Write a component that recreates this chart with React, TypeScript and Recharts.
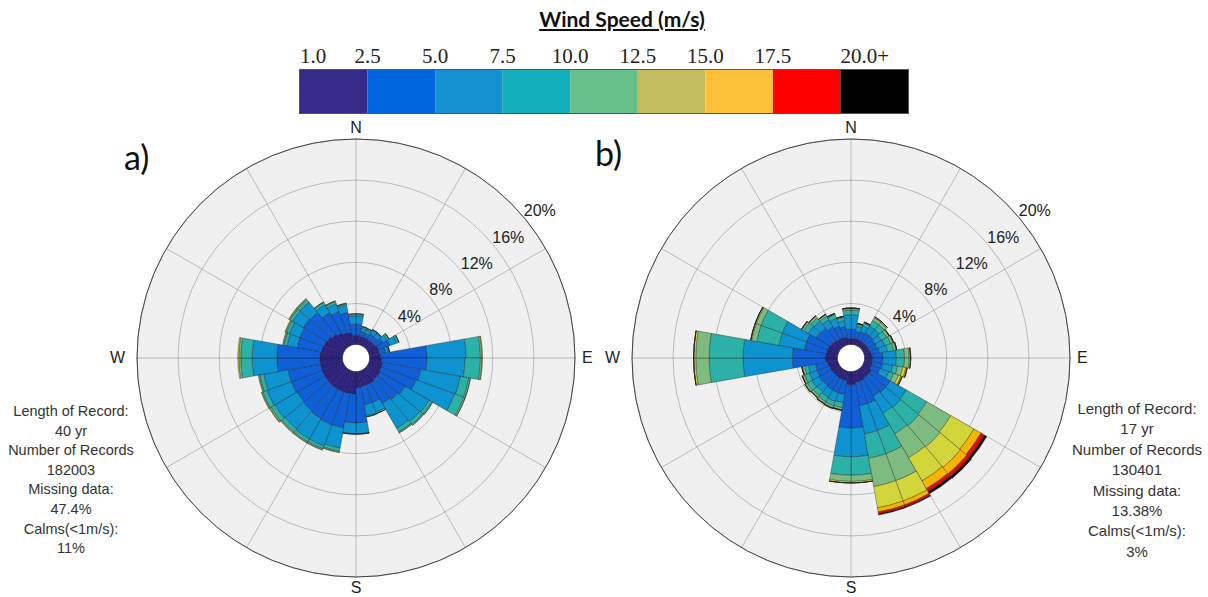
import {
  Bar,
  BarChart,
  PolarAngleAxis,
  PolarGrid,
  PolarRadiusAxis,
  RadialBar,
  RadialBarChart,
  XAxis,
  YAxis,
} from "recharts";

// 36 sectores de 10°, centro del sector en grados desde el norte
const DIRECCIONES = [
  5, 15, 25, 35, 45, 55, 65, 75, 85, 95, 105, 115, 125, 135, 145, 155, 165, 175,
  185, 195, 205, 215, 225, 235, 245, 255, 265, 275, 285, 295, 305, 315, 325, 335, 345, 355,
];

// a) frecuencia (%) por clase de velocidad
const A_1_25 = [0.9, 0.8, 0.8, 0.8, 0.85, 0.9, 1.0, 1.0, 1.1, 1.2, 1.3, 1.3, 1.4, 1.4, 1.5, 1.5, 1.5, 1.6, 2.2, 2.2, 2.2, 2.2, 2.2, 2.2, 2.2, 2.2, 2.2, 2.2, 2.1, 2.0, 1.9, 1.7, 1.5, 1.3, 1.2, 0.9];
const A_25_5 = [1.1, 0.5, 0.45, 0.6, 0.55, 0.8, 1.2, 0.6, 4.5, 4.4, 3.8, 3.6, 2.8, 2.6, 2.3, 1.8, 1.8, 3.4, 2.8, 3.4, 3.4, 3.3, 3.2, 3.1, 3.2, 3.2, 4.2, 4.2, 2.4, 2.5, 2.7, 2.8, 2.3, 2.2, 2.0, 1.1];
const A_5_75 = [0.8, 0.35, 0.35, 0.4, 0.4, 0.5, 0.7, 0.3, 3.8, 3.7, 3.9, 4.0, 2.7, 2.8, 2.8, 1.0, 1.1, 1.05, 1.05, 2.0, 2.2, 2.3, 2.3, 2.5, 2.5, 2.4, 2.4, 2.4, 1.0, 1.1, 1.2, 1.3, 0.9, 0.8, 0.7, 0.8];
const A_75_10 = [0.15, 0.15, 0.15, 0.1, 0.1, 0.2, 0.2, 0.1, 1.4, 1.5, 0.85, 0.95, 0.3, 0.35, 0.4, 0.15, 0.1, 0.05, 0.05, 0.3, 0.3, 0.3, 0.4, 0.45, 0.45, 0.4, 1.1, 1.1, 0.3, 0.3, 0.3, 0.3, 0.25, 0.25, 0.15, 0.15];
const A_10_125 = [0.05, 0, 0, 0, 0, 0, 0.05, 0, 0.15, 0.15, 0.15, 0.15, 0.1, 0.1, 0.1, 0, 0, 0, 0, 0.1, 0.1, 0.1, 0.1, 0.15, 0.1, 0.1, 0.2, 0.2, 0.1, 0.1, 0.1, 0.1, 0.05, 0.05, 0.05, 0.05];
const A_125_15 = [0, 0, 0, 0, 0, 0, 0, 0, 0.05, 0.05, 0, 0, 0, 0, 0, 0, 0, 0, 0, 0.05, 0.05, 0.05, 0.05, 0.05, 0.05, 0.05, 0.1, 0.1, 0.05, 0.05, 0.05, 0.05, 0, 0, 0, 0];

// b) frecuencia (%) por clase de velocidad
const B_1_25 = [0.6, 0.6, 0.6, 0.6, 0.6, 0.6, 0.6, 0.7, 0.8, 0.8, 0.8, 0.8, 1.0, 1.0, 1.0, 1.1, 1.1, 1.3, 1.3, 0.9, 0.9, 0.9, 0.9, 0.9, 0.9, 1.0, 1.2, 1.2, 1.1, 1.1, 1.0, 0.9, 0.8, 0.8, 0.7, 0.6];
const B_25_5 = [0.9, 0.7, 0.8, 0.9, 0.9, 0.8, 0.8, 0.8, 1.0, 1.0, 1.0, 0.9, 2.1, 2.1, 2.0, 2.3, 2.3, 4.2, 4.2, 1.4, 1.4, 1.4, 1.3, 1.4, 1.3, 1.2, 3.2, 3.2, 2.2, 2.2, 1.6, 1.6, 1.4, 1.2, 1.1, 0.9];
const B_5_75 = [1.4, 0.5, 0.6, 0.8, 0.8, 0.7, 0.8, 0.8, 1.3, 1.3, 1.0, 0.9, 1.8, 1.9, 1.9, 2.8, 2.8, 2.8, 2.8, 0.8, 0.9, 0.8, 0.8, 0.8, 0.8, 0.7, 4.8, 4.8, 2.5, 2.5, 0.9, 0.9, 0.8, 0.8, 0.6, 1.4];
const B_75_10 = [0.45, 0.2, 0.3, 0.6, 0.6, 0.6, 0.6, 0.6, 0.8, 0.8, 0.5, 0.5, 2.3, 2.3, 2.3, 2.4, 2.4, 1.8, 1.8, 0.5, 0.45, 0.5, 0.5, 0.5, 0.5, 0.4, 3.3, 3.3, 2.2, 2.2, 0.5, 0.4, 0.4, 0.4, 0.3, 0.45];
const B_10_125 = [0.15, 0.1, 0.1, 0.3, 0.3, 0.25, 0.25, 0.25, 0.45, 0.45, 0.5, 0.5, 2.7, 2.7, 2.7, 2.8, 2.8, 0.6, 0.6, 0.2, 0.2, 0.2, 0.2, 0.2, 0.2, 0.2, 1.3, 1.3, 0.5, 0.5, 0.2, 0.2, 0.2, 0.1, 0.1, 0.15];
const B_125_15 = [0.05, 0, 0, 0.1, 0.1, 0.05, 0.05, 0.05, 0.1, 0.1, 0.3, 0.25, 2.6, 2.6, 2.6, 2.1, 2.1, 0.15, 0.15, 0.05, 0.05, 0.05, 0.05, 0.05, 0.05, 0.05, 0.2, 0.2, 0.1, 0.1, 0.05, 0.05, 0, 0, 0, 0.05];
const B_15_175 = [0, 0, 0, 0, 0, 0, 0, 0, 0.05, 0.05, 0.1, 0.1, 0.8, 0.8, 0.85, 0.4, 0.4, 0, 0, 0, 0, 0, 0, 0, 0, 0, 0, 0, 0, 0, 0, 0, 0, 0, 0, 0];
const B_175_20 = [0, 0, 0, 0, 0, 0, 0, 0, 0, 0, 0.05, 0.05, 0.4, 0.35, 0.35, 0.2, 0.2, 0, 0, 0, 0, 0, 0, 0, 0, 0, 0, 0, 0, 0, 0, 0, 0, 0, 0, 0];
const B_20 = [0, 0, 0, 0, 0, 0, 0, 0, 0, 0, 0, 0, 0.25, 0.25, 0.25, 0.1, 0.1, 0, 0, 0, 0, 0, 0, 0, 0, 0, 0, 0, 0, 0, 0, 0, 0, 0, 0, 0];

const COLORES_ROSA = ["#2d2283", "#0f5fd8", "#0e93d1", "#2bb1a6", "#7dbb80", "#d3d63b", "#f7b500", "#e10b00", "#111111"];
const COLORES_BARRA = ["#352a87", "#0066df", "#1590d1", "#12aebc", "#66c08a", "#c4bd60", "#fcc138", "#fe0000", "#000000"];
const ETIQUETAS_VELOCIDAD = ["1.0", "2.5", "5.0", "7.5", "10.0", "12.5", "15.0", "17.5", "20.0+"];
const ANCHO_CLASE = [1, 1, 1, 1, 1, 1, 1, 1, 1];

const ANILLOS = [4, 8, 12, 16, 20];
const RAYOS = [0, 30, 60, 90, 120, 150, 180, 210, 240, 270, 300, 330];

const INFO_A = ["Length of Record:", "40 yr", "Number of Records", "182003", "Missing data:", "47.4%", "Calms(<1m/s):", "11%"];
const INFO_B = ["Length of Record:", "17 yr", "Number of Records", "130401", "Missing data:", "13.38%", "Calms(<1m/s):", "3%"];

const CAPAS_A = [A_1_25, A_25_5, A_5_75, A_75_10, A_10_125, A_125_15];
const CAPAS_B = [B_1_25, B_25_5, B_5_75, B_75_10, B_10_125, B_125_15, B_15_175, B_175_20, B_20];

const SANS = "'Liberation Sans', Arial, sans-serif";
const CALIBRI = "Lato, 'Open Sans', sans-serif";
const RADIO = 219;
const HUECO = 13.5;
const MEDIO = 250;

function filas(capas: number[][]) {
  return DIRECCIONES.map((dir, i) => {
    const fila: Record<string, number> = { dir };
    capas.forEach((c, k) => {
      fila[`v${k}`] = c[i];
    });
    return fila;
  });
}

function TickAnillo({ x, y, payload }: any) {
  return (
    <text x={x} y={y} dy={-1} textAnchor="start" fontSize={16} fill="#222" fontFamily={SANS}>
      {payload.value}%
    </text>
  );
}

function TickVelocidad({ x, y, payload }: any) {
  const i = payload.value;
  const extremo = i === 0 || i === ETIQUETAS_VELOCIDAD.length - 1;
  return (
    <text x={x} y={y} dy={1} textAnchor={extremo ? "start" : "middle"} fontSize={21} fill="#222" fontFamily="'Liberation Serif', 'DejaVu Serif', serif">
      {ETIQUETAS_VELOCIDAD[i]}
    </text>
  );
}

const estiloRumbo = { position: "absolute" as const, fontFamily: SANS, fontSize: 16, color: "#222", lineHeight: "16px" };

function Rosa({ capas, cx, cy }: { capas: number[][]; cx: number; cy: number }) {
  const datos = filas(capas);
  return (
    <div style={{ position: "absolute", left: cx - MEDIO, top: cy - MEDIO, width: 2 * MEDIO, height: 2 * MEDIO }}>
      <div
        style={{
          position: "absolute",
          left: MEDIO - RADIO,
          top: MEDIO - RADIO,
          width: 2 * RADIO,
          height: 2 * RADIO,
          borderRadius: "50%",
          background: "#f0f0f0",
        }}
      />
      <div
        style={{
          position: "absolute",
          left: MEDIO - HUECO,
          top: MEDIO - HUECO,
          width: 2 * HUECO,
          height: 2 * HUECO,
          borderRadius: "50%",
          background: "#ffffff",
        }}
      />
      <div style={{ position: "absolute", left: 0, top: 0 }}>
        <RadialBarChart
          width={2 * MEDIO}
          height={2 * MEDIO}
          cx={MEDIO}
          cy={MEDIO}
          innerRadius={HUECO}
          outerRadius={RADIO}
          startAngle={80}
          endAngle={-280}
          layout="centric"
          barCategoryGap={0}
          barGap={0}
          data={datos}
          margin={{ top: 0, right: 0, bottom: 0, left: 0 }}
        >
          <PolarAngleAxis
            type="category"
            dataKey="dir"
            tick={false}
            tickLine={false}
            axisLineType="circle"
            axisLine={{ stroke: "#444", strokeWidth: 1 }}
          />
          <PolarRadiusAxis
            type="number"
            angle={40}
            domain={[0, 20]}
            ticks={ANILLOS}
            allowDataOverflow
            axisLine={false}
            tickLine={false}
            tick={TickAnillo}
          />
          {capas.map((_, k) => (
            <RadialBar
              key={k}
              dataKey={`v${k}`}
              stackId="viento"
              fill={COLORES_ROSA[k]}
              stroke="#1a1a1a"
              strokeWidth={0.5}
              strokeOpacity={0.7}
              isAnimationActive={false}
            />
          ))}
          <PolarGrid gridType="circle" polarAngles={RAYOS} stroke="#000" strokeOpacity={0.22} strokeWidth={1} />
        </RadialBarChart>
      </div>
      <div style={{ ...estiloRumbo, left: MEDIO - 20, width: 40, textAlign: "center", top: MEDIO - RADIO - 19 }}>N</div>
      <div style={{ ...estiloRumbo, left: MEDIO - 20, width: 40, textAlign: "center", top: MEDIO + RADIO + 3 }}>S</div>
      <div style={{ ...estiloRumbo, left: MEDIO + RADIO + 7, top: MEDIO - 8 }}>E</div>
      <div style={{ ...estiloRumbo, left: MEDIO - RADIO - 52, width: 40, textAlign: "right", top: MEDIO - 8 }}>W</div>
    </div>
  );
}

function Info({ lineas, centro, top, tam, paso }: { lineas: string[]; centro: number; top: number; tam: number; paso: number }) {
  return (
    <div
      style={{
        position: "absolute",
        left: centro - 90,
        top,
        width: 180,
        textAlign: "center",
        fontFamily: SANS,
        fontSize: tam,
        lineHeight: `${paso}px`,
        color: "#333",
      }}
    >
      {lineas.map((l, i) => (
        <div key={i}>{l}</div>
      ))}
    </div>
  );
}

export default function App() {
  const filaBarra: Record<string, string | number> = { nombre: "ws" };
  ANCHO_CLASE.forEach((w, k) => {
    filaBarra[`c${k}`] = w;
  });
  const marcas = ETIQUETAS_VELOCIDAD.map((_, i) => i);
  const total = ANCHO_CLASE.reduce((a, b) => a + b, 0);

  return (
    <div style={{ position: "absolute", left: 0, top: 0, width: 1208, height: 597, background: "#fff", overflow: "hidden" }}>
      <div
        style={{
          position: "absolute",
          left: 522,
          top: 6,
          width: 200,
          textAlign: "center",
          fontFamily: CALIBRI,
          fontWeight: 700,
          fontSize: 21,
          textDecoration: "underline",
          color: "#111",
        }}
      >
        Wind Speed (m/s)
      </div>

      <div style={{ position: "absolute", left: 284, top: 40 }}>
        <BarChart
          width={640}
          height={73}
          layout="vertical"
          data={[filaBarra]}
          margin={{ top: 0, right: 16, bottom: 0, left: 16 }}
          barCategoryGap={0}
          barGap={0}
        >
          <XAxis
            type="number"
            orientation="top"
            domain={[0, total]}
            ticks={marcas}
            interval={0}
            height={30}
            axisLine={false}
            tickLine={false}
            tick={TickVelocidad}
          />
          <YAxis type="category" dataKey="nombre" hide />
          {COLORES_BARRA.map((c, k) => (
            <Bar key={k} dataKey={`c${k}`} stackId="barra" fill={c} isAnimationActive={false} />
          ))}
        </BarChart>
      </div>
      <div
        style={{
          position: "absolute",
          left: 299,
          top: 69,
          width: 610,
          height: 45,
          boxSizing: "border-box",
          border: "1px solid #555",
          pointerEvents: "none",
        }}
      />

      <div style={{ position: "absolute", left: 124, top: 136, fontFamily: CALIBRI, fontSize: 34, color: "#111" }}>a)</div>
      <div style={{ position: "absolute", left: 595, top: 132, fontFamily: CALIBRI, fontSize: 34, color: "#111" }}>b)</div>

      <Rosa capas={CAPAS_A} cx={356} cy={358} />
      <Rosa capas={CAPAS_B} cx={851} cy={358} />

      <Info lineas={INFO_A} centro={71} top={402} tam={14.5} paso={19.6} />
      <Info lineas={INFO_B} centro={1137} top={399} tam={15} paso={20.4} />
    </div>
  );
}
